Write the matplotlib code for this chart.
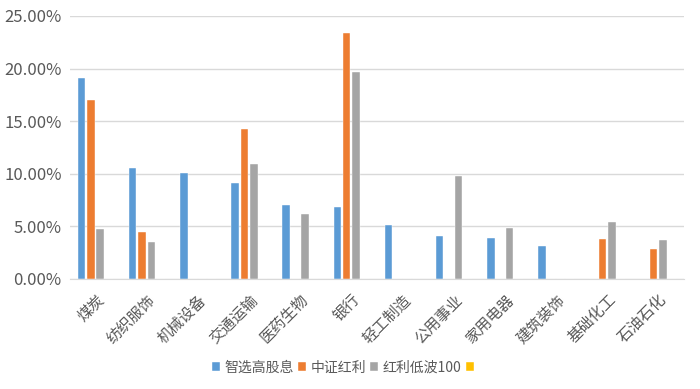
import matplotlib.pyplot as plt
import numpy as np
from matplotlib.ticker import FuncFormatter

plt.rcParams['font.family'] = ['Noto Sans CJK SC', 'DejaVu Sans']

# industries
categories = ['煤炭', '纺织服饰', '机械设备', '交通运输', '医药生物', '银行',
              '轻工制造', '公用事业', '家用电器', '建筑装饰', '基础化工', '石油石化']
series_names = ['智选高股息', '中证红利', '红利低波100', ' ']

# weights in %
zhixuan = [19.13, 10.53, 10.09, 9.14, 6.98, 6.88, 5.11, 4.09, 3.90, 3.14, 0, 0]
zhongzheng = [17.00, 4.47, 0, 14.21, 0, 23.35, 0, 0, 0, 0, 3.81, 2.89]
dibo100 = [4.76, 3.55, 0, 10.91, 6.15, 19.64, 0, 9.80, 4.82, 0, 5.43, 3.74]
empty = [0] * 12

colors = ['#5B9BD5', '#ED7D31', '#A5A5A5', '#FFC000']

fig = plt.figure(figsize=(7, 3.89), dpi=100)
ax = fig.add_axes([0.1, 0.283, 0.877, 0.676])

x = np.arange(len(categories))
step = 0.183
width = 0.148
all_series = [zhixuan, zhongzheng, dibo100, empty]
for i, (vals, c, name) in enumerate(zip(all_series, colors, series_names)):
    ax.bar(x + (i - 1.5) * step, vals, width=width, color=c, label=name,
           edgecolor='white', linewidth=0.3)

ax.set_xlim(-0.5, len(categories) - 0.5)
ax.set_ylim(0, 25)
ax.set_yticks(np.arange(0, 26, 5))
ax.yaxis.set_major_formatter(FuncFormatter(lambda v, p: '%.2f%%' % v))
ax.grid(axis='y', color='#d9d9d9', linewidth=1)
ax.set_axisbelow(True)
for s in ['top', 'right', 'left']:
    ax.spines[s].set_visible(False)
ax.spines['bottom'].set_color('#d9d9d9')
ax.tick_params(axis='both', length=0, colors='#595959')
ax.tick_params(axis='y', labelsize=12, pad=6)

ax.set_xticks(x)
ax.set_xticklabels(categories, rotation=45, ha='right', rotation_mode='anchor',
                   fontsize=11, color='#595959')
ax.tick_params(axis='x', pad=9)

handles, labels = ax.get_legend_handles_labels()
fig.legend(handles, labels, loc='center', bbox_to_anchor=(0.495, 0.055), ncol=4,
           frameon=False, fontsize=10, handlelength=0.6, handleheight=0.6,
           handletextpad=0.3, columnspacing=0.3, labelcolor='#595959')

fig.savefig('out.png', dpi=100)
